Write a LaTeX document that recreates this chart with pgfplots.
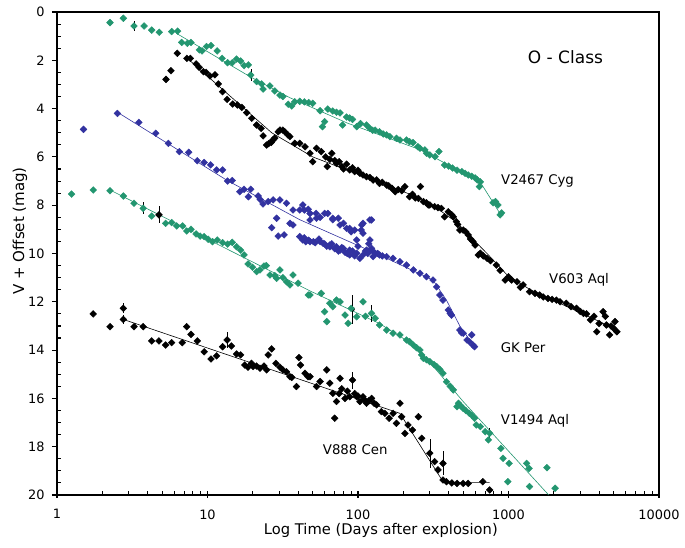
\documentclass[border=0pt]{standalone}
\usepackage{fontspec}
\setmainfont{DejaVu Sans}
\usepackage{pgfplots}
\pgfplotsset{compat=1.18}
\definecolor{cgreen}{RGB}{35,150,112}
\definecolor{cblue}{RGB}{50,50,160}
\pgfplotsset{dmark/.style={only marks, mark=square*, mark size=2.4pt, mark options={rotate=45}}}
\begin{document}
\begin{tikzpicture}
\begin{axis}[
  scale only axis, width=602pt, height=483pt,
  xmode=log, xmin=1, xmax=10000, ymin=0, ymax=20, y dir=reverse,
  xtick={1,10,100,1000,10000}, xticklabels={1,10,100,1000,10000},
  ytick={0,2,...,20}, yticklabels={0,2,4,6,8,10,12,14,16,18,20},
  minor y tick num=3,
  xtick pos=bottom, ytick pos=left,
  axis line style={line width=1.5pt},
  tick style={line width=1.1pt, black},
  tick align=inside, major tick length=5pt, minor tick length=4pt,
  every major y tick/.append style={xshift=-5pt},
  every major x tick/.append style={yshift=-2.5pt},
  ticklabel style={font=\fontsize{12.9}{15}\selectfont},
  yticklabel style={xshift=-9pt},
  xticklabel style={yshift=-11pt},
  xlabel={Log Time (Days after explosion)},
  xlabel style={at={(axis description cs:0.538,-0.0828)}, anchor=base, font=\fontsize{14.7}{17}\selectfont},
  ylabel={V + Offset (mag)},
  ylabel style={at={(axis description cs:-0.0615,0.547)}, anchor=center, font=\fontsize{15}{17}\selectfont},
  clip=false,
]
\coordinate (SW) at (rel axis cs:0,0);
\coordinate (NE) at (rel axis cs:1,1);
% ---------- fit lines ----------
\addplot[cgreen, line width=0.6pt] coordinates {(6.2,0.88) (19.2,2.68) (35.3,3.55) (85,4.6) (258,5.7) (650,7.05) (900,8.45)};
\addplot[black, line width=0.6pt] coordinates {(7.6,2.0) (26.7,5.0) (50,6.0) (108,6.8) (245,7.65) (330,8.1) (450,8.7) (720,10.0) (1000,10.95) (1400,11.5) (5250,13.15)};
\addplot[cblue, line width=0.6pt] coordinates {(2.52,4.15) (13.4,6.96) (41,8.6) (147,10.13) (315,11.1) (387,11.93) (475,13.0) (595,13.86)};
\addplot[cgreen, line width=0.6pt] coordinates {(2.25,7.37) (48,11.55) (139,12.9) (245,13.86) (500,16.13) (1850,20.0)};
\addplot[black, line width=0.6pt] coordinates {(2.76,12.73) (190,16.62) (370,19.48) (750,19.48)};
% ---------- error bars ----------
\addplot[only marks, mark=none, black, error bars/.cd, y dir=both, y explicit, error mark=none, error bar style={black, line width=0.6pt}]
 coordinates {(4.76,8.40) +- (0,0.35) (3.74,8.13) +- (0,0.25) (3.25,0.58) +- (0,0.2) (19.4,2.61) +- (0,0.25)
 (2.76,12.27) +- (0,0.2) (2.76,12.73) +- (0,0.2) (13.5,13.58) +- (0,0.35) (92,15.24) +- (0,0.35)
 (300,18.27) +- (0,0.6) (367,18.69) +- (0,0.5) (92,12.3) +- (0,0.6) (123,12.48) +- (0,0.35) (750,17.44) +- (0,0.2)};
% ---------- V2467 Cyg ----------
\addplot[dmark, color=cgreen] table {
x y
2.25 0.44
2.76 0.26
3.25 0.58
3.79 0.58
4.26 0.75
4.78 0.84
5.78 0.81
6.33 0.79
6.74 1.26
7.35 1.30
7.77 1.26
8.83 1.57
9.20 1.61
9.85 1.43
10.55 1.39
11.6 1.61
12.5 1.92
13.6 2.10
14.6 2.10
15.6 1.95
16.6 2.03
17.5 2.22
18.7 2.19
19.4 2.61
21.2 2.88
22.9 2.98
23.4 3.19
26.0 3.06
28.0 3.27
30.3 3.44
31.7 3.50
34.4 3.82
36.3 3.89
38 3.72
41 3.70
44 3.72
47 3.75
50 3.78
56 4.09
60 4.54
58 4.75
63 4.02
68 4.10
72 4.15
76 4.18
79 4.68
84 4.35
88 4.39
92 4.45
98 4.75
104 4.62
114 4.68
120 4.82
125 4.90
130 4.89
139 4.96
147 5.05
155 5.09
163 5.16
180 5.23
190 5.30
210 5.30
220 5.37
232 5.41
250 5.58
258 5.64
278 5.71
285 5.85
300 5.92
325 5.99
345 5.78
376 6.34
400 6.38
425 6.46
455 6.55
490 6.61
515 6.68
540 6.75
570 6.80
600 6.87
620 6.95
650 7.03
640 7.23
790 7.90
820 7.85
850 7.99
880 8.40
900 8.32
};
% ---------- V603 Aql ----------
\addplot[dmark, color=black] table {
x y
5.3 2.79
5.72 2.43
6.3 1.71
7.3 1.92
7.7 1.92
8.4 2.15
8.8 2.29
9.4 2.47
9.8 2.50
10.4 2.65
11.2 2.60
11.8 2.98
12.6 3.30
13.5 3.62
14.7 3.81
15.8 3.85
16.9 3.95
18.2 4.17
19.7 4.40
21.2 4.68
22.7 4.82
23.4 5.13
24.7 5.51
25.5 5.45
26.5 5.40
27.2 5.30
28 5.22
29.5 4.96
30.3 4.89
31.7 4.89
32.6 4.96
34.2 5.09
35.3 5.16
38 5.44
41 5.44
44.5 5.58
48 5.85
50 6.20
53 5.64
57 5.78
61 6.00
62.5 6.40
65 6.10
67 5.85
70 6.15
72 6.27
75 6.20
78 6.40
80 6.50
84 6.30
88 6.54
92 6.45
95 6.61
100 6.55
103 6.68
108 6.75
114 6.82
120 6.85
126 6.96
133 6.95
139 7.10
145 7.05
155 7.17
160 7.20
168 7.30
177 7.44
185 7.35
195 7.40
205 7.23
220 7.65
230 7.55
240 7.70
252 7.72
260 7.23
272 7.85
285 7.90
293 7.99
300 7.99
323 8.06
340 8.10
358 8.13
376 8.48
398 8.27
420 8.40
430 8.48
450 8.68
460 8.80
475 9.03
500 9.03
520 9.10
540 9.23
560 9.40
580 9.50
600 9.65
630 10.06
650 9.99
680 10.10
720 10.20
760 10.30
830 10.48
880 10.70
950 11.10
1000 10.96
1050 11.10
1140 11.17
1200 11.40
1250 11.30
1380 11.58
1500 11.65
1610 11.72
1700 11.80
1830 11.86
1950 11.90
2080 11.93
2200 12.00
2420 12.06
2600 12.20
2830 12.27
3000 12.40
3150 12.48
3300 12.50
3500 12.75
3700 12.60
3860 13.24
4000 12.90
4250 12.41
4400 12.60
4470 12.96
4700 13.37
4800 13.00
5000 13.10
5100 12.82
5250 13.24
};
% ---------- GK Per ----------
\addplot[dmark, color=cblue] table {
x y
1.5 4.86
2.52 4.20
3.5 4.57
4.53 5.02
5.5 5.44
6.5 5.78
7.5 5.81
8.55 6.16
9.5 6.23
10.5 6.33
11.5 6.54
12.6 6.54
13.6 7.00
14.6 6.98
16.4 7.44
17.5 7.34
18.7 7.65
19.4 7.34
21.7 7.62
22.4 7.76
23.4 7.95
25.3 7.85
27.3 7.78
30.3 7.78
33.5 7.92
37 8.20
41 8.20
44 8.20
46.7 8.17
26.7 8.93
28.8 8.54
29.5 9.28
32.3 9.23
35.3 8.75
37 8.82
41 9.30
45 9.51
48 8.61
52.7 8.34
56 8.50
63 8.34
68 8.60
74 8.54
80 8.75
88 8.96
95 9.03
105 9.03
108 8.75
123 8.61
43 7.99
48 8.34
53 8.54
60 8.34
68 8.54
76 8.82
84 8.96
90 9.10
106 8.82
120 8.61
43 9.44
44 9.35
47 9.45
48 9.51
50.5 9.51
52 9.55
55 9.40
56 9.51
58.6 9.58
60 9.60
62 9.70
65 9.65
65 9.72
67 9.60
70 9.80
72 9.72
74 9.90
76 9.86
78 9.75
80 9.79
82 9.95
85 10.00
88 9.86
88 10.06
92 9.90
95 10.10
98 9.99
98 9.44
100 9.70
103 10.20
108 10.06
108 9.16
112 9.90
114 9.86
116 10.00
118 9.60
120 9.86
120 9.44
123 9.79
126 10.13
128 9.95
130 10.00
135 10.00
139 10.06
145 10.10
155 10.13
171 10.20
190 10.34
210 10.48
233 10.68
258 10.82
285 10.96
315 11.10
333 11.38
350 11.72
367 11.93
398 12.34
410 12.48
418 12.55
475 13.17
487 13.28
500 13.30
530 13.58
550 13.65
570 13.37
580 13.79
595 13.86
};
% ---------- V1494 Aql ----------
\addplot[dmark, color=cgreen] table {
x y
1.25 7.54
1.74 7.37
2.25 7.40
2.76 7.62
3.25 7.92
3.74 8.13
4.26 8.45
5.27 8.75
5.78 8.72
6.24 8.86
6.84 8.86
7.28 9.07
7.77 9.00
8.4 9.19
8.93 9.28
9.5 9.30
10.1 9.41
10.8 9.51
11.6 9.44
12.6 9.55
13.6 9.61
14.6 9.54
15.6 9.72
16.6 9.86
17.5 10.06
18.6 10.43
19.9 10.57
21.2 10.75
22.3 10.68
23.7 10.52
24.6 10.50
26 10.89
28 10.92
28.8 11.03
30.3 10.68
31.7 11.00
33.5 11.17
35.3 11.30
37 10.89
40 11.23
46.7 11.72
48 11.72
57 11.65
60 12.41
62 12.82
65 12.06
68 12.20
72 11.93
76 12.00
82 12.55
86 12.89
90 12.27
98 12.62
108 12.00
112 12.60
123 12.48
130 12.68
139 12.96
155 13.17
171 13.30
190 13.37
210 13.58
220 13.65
233 13.79
245 13.90
258 14.00
265 14.20
272 14.34
285 14.40
300 14.48
320 14.60
333 14.68
350 14.80
367 14.96
387 15.31
410 15.50
430 15.65
455 16.34
465 16.20
480 16.30
500 16.41
520 16.50
550 16.62
570 16.70
595 16.82
610 17.10
650 17.17
700 17.38
750 17.44
735 17.72
890 18.07
920 18.48
1010 18.69
990 19.45
1320 18.69
1370 18.90
1380 19.65
1800 18.87
2040 19.72
};
% ---------- V888 Cen ----------
\addplot[dmark, color=black] table {
x y
4.76 8.40
1.74 12.50
2.25 13.03
2.76 12.27
2.76 12.73
3.25 13.03
3.74 13.03
4.26 13.62
4.76 13.62
5.27 13.79
5.78 13.69
6.8 13.69
7.28 13.03
7.77 13.35
8.55 13.62
9.5 14.07
10.55 14.37
11.5 14.24
12.6 13.86
13.5 13.58
14.4 13.83
15.6 14.16
16.6 14.20
17.7 14.62
18.6 14.71
19.6 14.55
20.1 14.68
21.2 14.66
22.3 14.75
23.7 14.66
24.7 14.82
25.3 14.20
26.7 13.95
28.5 14.55
30.3 14.71
31.7 14.82
33.5 14.90
35.3 15.10
36.3 15.13
39 15.51
40.5 14.31
41.5 14.62
44.5 14.96
46.5 15.10
48 15.10
53 15.51
56 15.30
62 14.82
65 15.37
68 15.79
70 16.82
72 16.13
75 15.80
76 15.17
78 15.60
82 16.00
85 15.70
88 15.93
92 15.24
95 15.80
98 15.93
100 15.90
103 16.13
108 15.93
110 16.05
114 16.20
118 16.10
123 16.00
128 16.20
133 16.27
143 16.55
151 16.62
161 16.82
171 16.62
180 17.03
190 16.20
195 16.76
205 17.45
215 17.10
230 17.31
252 16.76
265 17.65
300 18.27
323 18.62
340 18.96
367 18.69
367 19.38
387 19.45
420 19.50
455 19.52
500 19.52
540 19.52
675 19.45
750 19.79
};
% ---------- annotations ----------
\node[anchor=base west, font=\fontsize{13.3}{15}\selectfont, inner sep=0pt] at (axis cs:891,7.16) {V2467 Cyg};
\node[anchor=base west, font=\fontsize{13.3}{15}\selectfont, inner sep=0pt] at (axis cs:1858,11.23) {V603 Aql};
\node[anchor=base west, font=\fontsize{13.3}{15}\selectfont, inner sep=0pt] at (axis cs:888,14.08) {GK Per};
\node[anchor=base west, font=\fontsize{13.3}{15}\selectfont, inner sep=0pt] at (axis cs:888,17.1) {V1494 Aql};
\node[anchor=base west, font=\fontsize{13.3}{15}\selectfont, inner sep=0pt] at (axis cs:58.3,18.34) {V888 Cen};
\node[anchor=base west, font=\fontsize{17}{20}\selectfont, inner sep=0pt] at (axis cs:1342,2.12) {O - Class};
\end{axis}
\pgfresetboundingbox
\path[use as bounding box] ([xshift=-57pt,yshift=-53pt]SW) rectangle ([xshift=26pt,yshift=12pt]NE);
\end{tikzpicture}
\end{document}
